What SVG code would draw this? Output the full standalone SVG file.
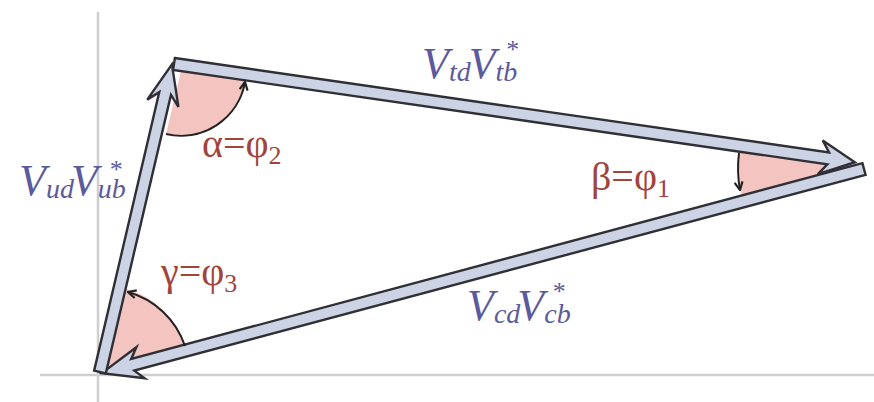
<svg xmlns="http://www.w3.org/2000/svg" width="874" height="402" viewBox="0 0 874 402">
<defs>
<style>
.axis{stroke:#cfcfcf;stroke-width:2.5;fill:none}
.bar{fill:#ccd3e4;stroke:#2f2f35;stroke-width:2.4;stroke-linejoin:miter}
.wedge{fill:#f4c4c0;stroke:none}
.arc{fill:none;stroke:#222;stroke-width:2}
.vl{font-family:"Liberation Serif","DejaVu Serif",serif;font-style:italic;fill:#5b5a9c}
.st{font-style:normal;font-size:26px}
.gl{font-family:"Liberation Serif","DejaVu Serif",serif;fill:#a0443c}
</style>
<marker id="ah" viewBox="0 0 10 10" refX="9" refY="5" markerWidth="10" markerHeight="10" markerUnits="userSpaceOnUse" orient="auto">
<path d="M1,1 L9,5 L1,9" fill="none" stroke="#222" stroke-width="2.2"/>
</marker>
</defs>
<g id="axes">
<line class="axis" x1="98" y1="12" x2="98" y2="402"/>
<line class="axis" x1="40" y1="375" x2="874" y2="375"/>
</g>
<g id="angles">
<path class="wedge" d="M181,71 L166,134 A65 65 0 0 0 245,80 Z"/>
<path class="wedge" d="M858,166 L739,148 A120 120 0 0 0 742,197 Z"/>
<path class="wedge" d="M104,370 L185,348 A84 84 0 0 0 123,288 Z"/>
</g>
<g id="connectors">
<polygon id="vcd" class="bar" transform="translate(864,169) rotate(165.01)" points="0,-6 757,-6 749,-16 789,0 749,16 757,6 0,6"/>
<polygon id="vud" class="bar" transform="translate(100,372) rotate(-76.84)" points="0,-6 286,-6 276,-16 316,0 276,16 286,6 0,6"/>
<polygon id="vtd" class="bar" transform="translate(174,64) rotate(8.21)" points="0,-6 661,-6 653,-17 688,0 653,17 661,6 0,6"/>
</g>
<g id="arcs">
<path class="arc" d="M166,134 A65 65 0 0 0 245,82" marker-end="url(#ah)"/>
<path class="arc" d="M739,153 A120 120 0 0 0 740,190" marker-end="url(#ah)"/>
<path class="arc" d="M185,346 A84 84 0 0 0 128,292" marker-end="url(#ah)"/>
</g>
<g id="label-ud">
<text class="vl" x="19" y="195"><tspan font-size="44">V</tspan><tspan font-size="28" dy="3">ud</tspan><tspan font-size="44" dy="-3" dx="-3">V</tspan><tspan font-size="28" dy="3">ub</tspan><tspan class="st" dx="-16" dy="-20">*</tspan></text>
</g>
<g id="label-td">
<text class="vl" x="422" y="78"><tspan font-size="44">V</tspan><tspan font-size="28" dy="3">td</tspan><tspan font-size="44" dy="-3" dx="-2">V</tspan><tspan font-size="28" dy="3">tb</tspan><tspan class="st" dx="-11" dy="-23">*</tspan></text>
</g>
<g id="label-cd">
<text class="vl" x="467" y="320"><tspan font-size="44">V</tspan><tspan font-size="28" dy="3">cd</tspan><tspan font-size="44" dy="-3" dx="-3">V</tspan><tspan font-size="28" dy="3">cb</tspan><tspan class="st" dx="-18" dy="-23">*</tspan></text>
</g>
<g id="label-alpha">
<text class="gl" x="202" y="157" font-size="40">α=φ<tspan font-size="26" dy="7">2</tspan></text>
</g>
<g id="label-beta">
<text class="gl" x="591" y="190" font-size="40">β=φ<tspan font-size="26" dy="7">1</tspan></text>
</g>
<g id="label-gamma">
<text class="gl" x="161" y="285" font-size="40">γ=φ<tspan font-size="26" dy="7">3</tspan></text>
</g>
</svg>
